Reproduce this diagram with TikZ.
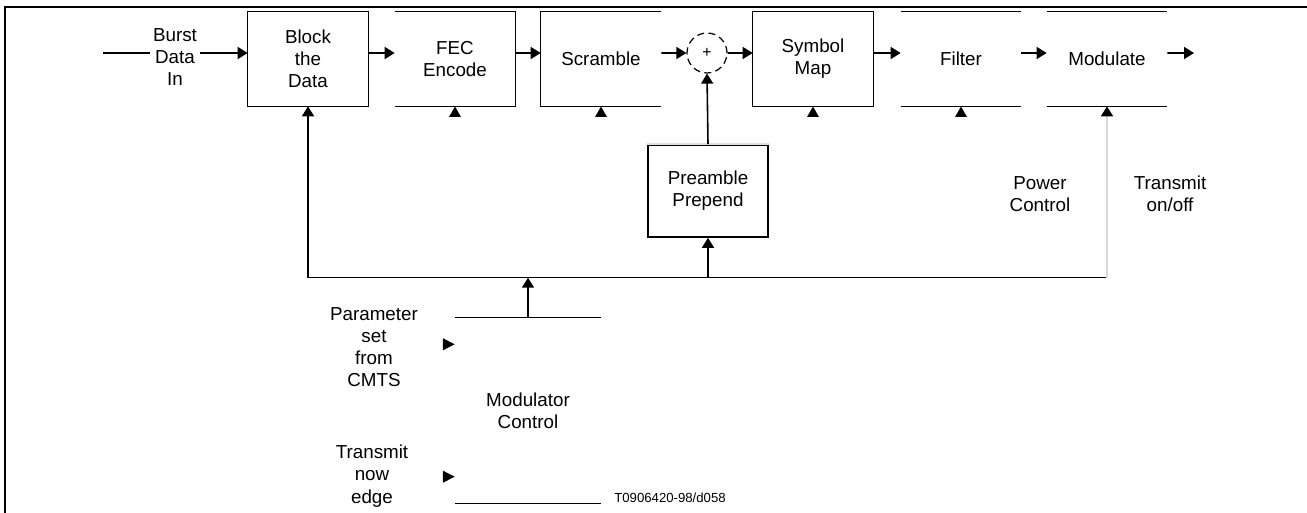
\documentclass[tikz,border=0pt]{standalone}
\usepackage{fontspec}
\setmainfont{Liberation Sans}
\usetikzlibrary{arrows.meta}

\begin{document}
\begin{tikzpicture}[
        x=0.02cm, y=-0.02cm,
        blockbox/.style={minimum width=2.4cm, minimum height=1.88cm, inner sep=0pt, align=center, font=\fontsize{10.7}{12.6}\selectfont},
        textlbl/.style={align=center, inner sep=2pt, font=\fontsize{10.7}{12.6}\selectfont},
        boxline/.style={line width=0.9pt},
        arr/.style={line width=0.9pt, -{Triangle[length=2mm, width=2.4mm]}}
      ]
      \useasboundingbox (0,0) rectangle (1307,513);
      \draw[line width=1.2pt] (5.4,513) -- (5.4,7.3) -- (1307,7.3);
      \foreach \name/\x/\lbl in {%
        blk/308/Block\\the\\Data,
        fec/455/FEC\\Encode,
        scr/601/Scramble,
        sym/813/Symbol\\Map,
        flt/961/Filter,
        mod/1107/Modulate%
      }{
        \node[blockbox] (\name) at (\x,59) {\lbl};
      }
      \node[circle, draw, line width=0.7pt, dash pattern=on 4pt off 2.5pt, minimum size=0.8cm, inner sep=0pt, font=\fontsize{9}{10}\selectfont] (sum) at (707,53) {+};
      \node[blockbox, draw, boxline, minimum height=1.84cm] (pre) at (708,191) {Preamble\\Prepend};
      \draw[gray!25, line width=0.9pt] (pre.north west) -- (pre.north east);
      \node[blockbox, minimum width=2.92cm, minimum height=3.71cm] (ctl) at (528,410.5) {Modulator\\Control};
      \draw[boxline] (blk.north west) rectangle (blk.south east);
      \draw[boxline] (sym.north west) rectangle (sym.south east);
      \draw[boxline] (fec.north west) -- (fec.north east) -- (fec.south east) -- (fec.south west);
      \draw[boxline] (scr.north east) -- (scr.north west) -- (scr.south west) -- (scr.south east);
      \foreach \n in {flt, mod, ctl}{
        \draw[boxline] (\n.north west) -- (\n.north east) (\n.south west) -- (\n.south east);
      }
      \coordinate (bin) at (103,53);
      \coordinate (bout) at (1194,53);
      \draw[arr] (bin) -- ([yshift=1.2mm]blk.west);
      \node[textlbl, fill=white] (burst) at (175,57) {Burst\\Data\\In};
      \foreach \a/\b in {blk/fec, fec/scr, sym/flt, flt/mod}{
        \draw[arr] ([yshift=1.2mm]\a.east) -- ([yshift=1.2mm]\b.west);
      }
      \draw[arr] ([yshift=1.2mm]scr.east) -- (sum.west);
      \draw[arr] (sum.east) -- ([yshift=1.2mm]sym.west);
      \draw[arr] ([yshift=1.2mm]mod.east) -- (bout);
      \draw[arr] (pre.north) -- (sum.south);
      \coordinate (busL) at (308,277.7);
      \coordinate (busR) at (1107,277.7);
      \draw[boxline] (busL) -- (busR);
      \draw[arr] (busL) -- (blk.south);
      \draw[arr] (pre.south |- busL) -- (pre.south);
      \draw[arr] (ctl.north) -- (ctl.north |- busL);
      \draw[arr, draw=gray!30, -{Triangle[length=2mm, width=2.4mm, color=black]}] (busR) -- (mod.south);
      \foreach \x in {455, 601, 813, 961}{
        \fill (\x,106.5) -- ++(6,10.5) -- ++(-12,0) -- cycle;
      }
      \foreach \y in {344.3, 476.7}{
        \fill (ctl.west |- 0,\y) -- ++(-11.7,-6) -- ++(0,12) -- cycle;
      }
      \node[textlbl] (param) at (374,347) {Parameter\\set\\from\\CMTS};
      \node[textlbl] (txnow) at (372,476) {Transmit\\now\\edge};
      \node[textlbl] (power) at (1040,194) {Power\\Control};
      \node[textlbl] (txonoff) at (1170,194) {Transmit\\on/off};
      \node[font=\fontsize{7.5}{9}\selectfont] (figid) at (670,498) {T0906420-98/d058};
    \end{tikzpicture}
\end{document}
